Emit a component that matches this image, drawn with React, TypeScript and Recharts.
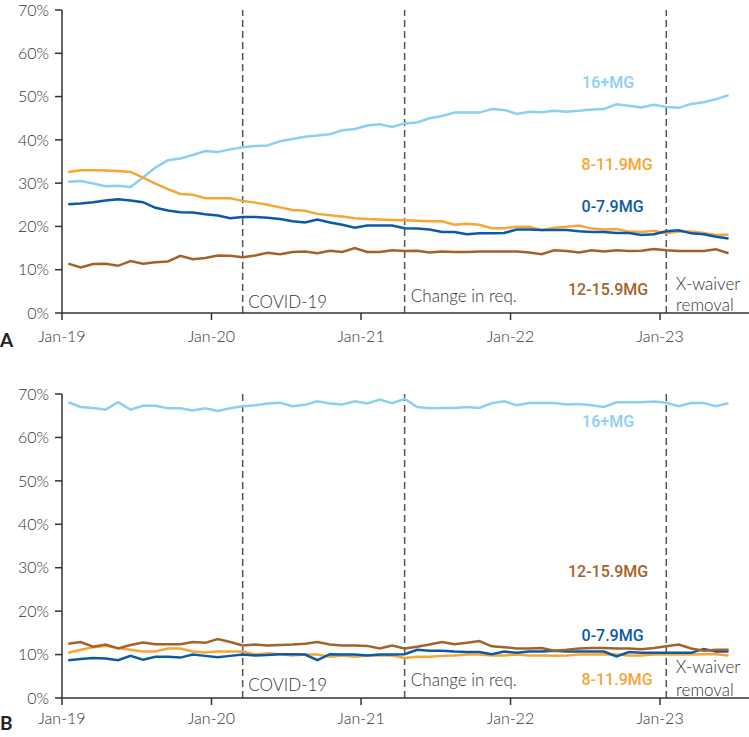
import React from 'react';
import { LineChart, Line, XAxis, YAxis, ReferenceLine, ReferenceDot } from 'recharts';

// Monthly observations, Jan-2019 .. Jun-2023 (54 months)
const months = [
  'Jan-19','Feb-19','Mar-19','Apr-19','May-19','Jun-19','Jul-19','Aug-19','Sep-19','Oct-19','Nov-19','Dec-19',
  'Jan-20','Feb-20','Mar-20','Apr-20','May-20','Jun-20','Jul-20','Aug-20','Sep-20','Oct-20','Nov-20','Dec-20',
  'Jan-21','Feb-21','Mar-21','Apr-21','May-21','Jun-21','Jul-21','Aug-21','Sep-21','Oct-21','Nov-21','Dec-21',
  'Jan-22','Feb-22','Mar-22','Apr-22','May-22','Jun-22','Jul-22','Aug-22','Sep-22','Oct-22','Nov-22','Dec-22',
  'Jan-23','Feb-23','Mar-23','Apr-23','May-23','Jun-23',
];

// Panel A
const a16 = [30.3,30.5,29.9,29.3,29.4,29.1,31.3,33.6,35.3,35.7,36.5,37.4,37.2,37.8,38.3,38.6,38.7,39.7,40.2,
  40.7,41.0,41.3,42.2,42.5,43.3,43.6,43.0,43.8,44.0,45.0,45.5,46.3,46.3,46.3,47.1,46.9,46.0,46.5,
  46.4,46.7,46.5,46.7,47.0,47.1,48.2,47.9,47.5,48.1,47.6,47.4,48.3,48.7,49.4,50.3];
const a8 = [32.6,33.0,33.0,32.9,32.8,32.6,31.3,29.9,28.6,27.5,27.3,26.5,26.5,26.5,25.9,25.5,25.0,24.4,23.8,
  23.6,22.9,22.6,22.3,21.9,21.7,21.6,21.5,21.4,21.3,21.2,21.2,20.4,20.6,20.4,19.6,19.6,19.9,19.9,
  19.1,19.7,19.9,20.2,19.5,19.3,19.4,18.8,18.7,19.0,18.4,18.8,18.8,18.5,18.0,18.1];
const a0 = [25.1,25.3,25.6,26.0,26.3,26.0,25.6,24.3,23.7,23.3,23.2,22.8,22.5,21.9,22.2,22.2,22.0,21.7,21.2,
  20.9,21.6,20.9,20.4,19.7,20.2,20.2,20.2,19.6,19.5,19.3,18.7,18.7,18.2,18.4,18.4,18.5,19.3,19.3,
  19.2,19.2,19.2,18.9,18.7,18.7,18.5,18.5,18.0,18.2,18.9,19.1,18.4,18.2,17.6,17.2];
const a12 = [11.4,10.5,11.3,11.4,10.9,12.0,11.4,11.7,11.9,13.2,12.4,12.7,13.3,13.2,12.9,13.3,13.9,13.6,14.1,
  14.2,13.8,14.4,14.1,15.0,14.1,14.1,14.5,14.3,14.4,14.0,14.2,14.1,14.1,14.2,14.2,14.2,14.2,14.0,
  13.6,14.5,14.3,14.0,14.5,14.2,14.5,14.3,14.4,14.8,14.5,14.3,14.3,14.3,14.7,13.8];

// Panel B
const b16 = [68.1,67.0,66.8,66.4,68.1,66.4,67.3,67.3,66.7,66.7,66.2,66.7,66.1,66.7,67.2,
  67.4,67.8,68.0,67.2,67.5,68.3,67.8,67.6,68.3,67.8,68.7,67.9,68.9,67.0,66.7,66.8,66.8,67.0,66.8,
  67.9,68.3,67.4,67.9,67.9,67.9,67.6,67.7,67.4,67.0,68.1,68.1,68.1,68.3,68.0,67.2,67.9,67.9,67.2,67.9];
const b8 = [10.4,11.1,11.7,12.0,11.5,11.1,10.7,10.7,11.4,11.4,10.7,10.5,10.7,10.7,10.7,10.0,10.3,10.1,9.8,10.0,10.0,9.5,9.8,9.5,9.8,9.8,9.8,9.2,
  9.5,9.5,9.7,9.8,10.0,10.0,9.8,9.8,10.0,9.8,9.8,9.7,9.8,10.0,10.0,10.1,10.0,9.8,9.8,10.0,10.0,10.0,10.0,10.1,10.1,9.8];
const b0 = [8.7,9.0,9.2,9.1,8.7,9.7,8.8,9.5,9.5,9.3,10.0,9.7,9.4,9.7,10.0,9.8,9.9,10.1,10.1,10.0,8.7,10.1,10.0,10.0,9.8,10.0,10.0,10.1,
  11.1,10.9,10.9,10.7,10.6,10.6,10.1,10.7,10.4,10.7,10.7,10.9,10.7,10.7,10.7,10.7,9.6,10.6,10.4,10.4,10.4,10.4,10.4,11.3,10.7,10.7];
const b12 = [12.5,12.9,11.8,12.3,11.4,12.2,12.8,12.4,12.4,12.4,12.9,12.7,13.6,12.9,12.1,12.3,12.1,12.2,12.3,12.5,12.9,12.3,12.1,12.1,12.0,11.4,12.1,11.4,
  11.8,12.3,12.9,12.4,12.7,13.1,11.9,11.7,11.4,11.4,11.5,10.9,11.1,11.4,11.5,11.5,11.4,11.4,11.2,11.5,11.9,12.3,11.4,10.9,11.1,11.1];

const xTicks = [0, 12, 24, 36, 48];
const xTickLabels = ['Jan-19', 'Jan-20', 'Jan-21', 'Jan-22', 'Jan-23'];
const yTicks = [0, 10, 20, 30, 40, 50, 60, 70];

const eventTimes = [14.5, 27.5, 48.5];

const COLORS = {
  s16: '#8ccff2',
  s8: '#f7a534',
  s0: '#0a5aa8',
  s12: '#a4622b',
};

const seriesNames = ['16+MG', '8-11.9MG', '0-7.9MG', '12-15.9MG'];

const dataA = months.map((m, i) => ({ t: i + 0.5, m, s16: a16[i], s8: a8[i], s0: a0[i], s12: a12[i] }));
const dataB = months.map((m, i) => ({ t: i + 0.5, m, s16: b16[i], s8: b8[i], s0: b0[i], s12: b12[i] }));

// label placements in data coordinates [t, value]
const seriesLabelPosA: Record<string, [number, number]> = {
  s16: [43.83, 53.2], s8: [44.55, 34.4], s0: [44.19, 24.55], s12: [43.83, 5.47],
};
const seriesLabelPosB: Record<string, [number, number]> = {
  s16: [43.83, 63.7], s8: [44.55, 4.2], s0: [44.19, 14.35], s12: [43.83, 29.1],
};
const annotA = [
  { text: 'COVID-19', t: 14.95, v: 2.6 },
  { text: 'Change in req.', t: 28.0, v: 4.0 },
  { text: 'X-waiver', t: 49.26, v: 6.86 },
  { text: 'removal', t: 49.28, v: 2.0 },
];
const annotB = [
  { text: 'COVID-19', t: 14.95, v: 3.06 },
  { text: 'Change in req.', t: 28.0, v: 4.2 },
  { text: 'X-waiver', t: 49.26, v: 7.14 },
  { text: 'removal', t: 49.28, v: 2.07 },
];

const keys: (keyof typeof COLORS)[] = ['s16', 's8', 's0', 's12'];

const makeLabel = (text: string, color: string, anchor: string, size: number, weight: number, family: string) =>
  (props: any) => {
    const vb = props.viewBox || {};
    const x = (vb.x ?? 0) + (vb.width ?? 0) / 2;
    const y = (vb.y ?? 0) + (vb.height ?? 0) / 2;
    return (
      <text x={x} y={y} textAnchor={anchor} dominantBaseline="central" fill={color}
        fontSize={size} fontWeight={weight} fontFamily={family}>{text}</text>
    );
  };

const tickStyle = { fill: '#333', fontSize: 16, fontFamily: 'Lato', fontWeight: 300 };

function Panel({ data, labelPos, annots, xAxisHeight, xTickMargin }: any) {
  const height = 10 + (xAxisHeight === 47 ? 303 : 304) + xAxisHeight;
  return (
    <LineChart width={749} height={height} data={data} margin={{ top: 10, right: 0, left: 0, bottom: 0 }}>
      <XAxis type="number" dataKey="t" domain={[0, 55.14]} ticks={xTicks} interval={0}
        tickFormatter={(v: number) => xTickLabels[xTicks.indexOf(v)]}
        height={xAxisHeight} tickSize={7} tickMargin={xTickMargin}
        axisLine={{ stroke: '#333', strokeWidth: 1.5 }} tickLine={{ stroke: '#333', strokeWidth: 1.5 }}
        tick={tickStyle} />
      <YAxis type="number" domain={[0, 70]} ticks={yTicks} interval={0} width={62}
        tickFormatter={(v: number) => `${v}%`} tickSize={7} tickMargin={6}
        axisLine={{ stroke: '#333', strokeWidth: 1.5 }} tickLine={{ stroke: '#333', strokeWidth: 1.5 }}
        tick={tickStyle} />
      {eventTimes.map((t) => (
        <ReferenceLine key={t} x={t} stroke="#555" strokeWidth={1.5} strokeDasharray="7 4" />
      ))}
      {keys.map((k) => (
        <Line key={k} type="linear" dataKey={k} stroke={COLORS[k]} strokeWidth={2.5} dot={false}
          isAnimationActive={false} />
      ))}
      {keys.map((k, i) => (
        <ReferenceDot key={'l' + k} x={labelPos[k][0]} y={labelPos[k][1]} r={0} fill="none" stroke="none"
          label={makeLabel(seriesNames[i], COLORS[k], 'middle', 16, 500, 'Roboto')} />
      ))}
      {annots.map((a: any) => (
        <ReferenceDot key={'a' + a.text} x={a.t} y={a.v} r={0} fill="none" stroke="none"
          label={makeLabel(a.text, '#333', 'start', 17, 300, 'Lato')} />
      ))}
    </LineChart>
  );
}

export default function App() {
  return (
    <div style={{ position: 'absolute', left: 0, top: 0, width: 749, height: 737, overflow: 'hidden', background: '#fff' }}>
      <div style={{ position: 'absolute', left: 0, top: 0 }}>
        <Panel data={dataA} labelPos={seriesLabelPosA} annots={annotA} xAxisHeight={47} xTickMargin={11} />
      </div>
      <div style={{ position: 'absolute', left: 0, top: 384 }}>
        <Panel data={dataB} labelPos={seriesLabelPosB} annots={annotB} xAxisHeight={39} xTickMargin={8} />
      </div>
      <svg width={749} height={737} style={{ position: 'absolute', left: 0, top: 0, pointerEvents: 'none' }}>
        <text x={0} y={347} fontSize={19} fontWeight={700} fontFamily="Lato" fill="#222">A</text>
        <text x={0} y={730} fontSize={19} fontWeight={700} fontFamily="Lato" fill="#222">B</text>
      </svg>
    </div>
  );
}
